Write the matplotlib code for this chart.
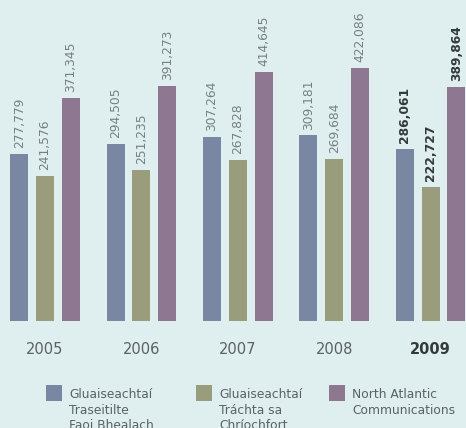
import matplotlib
matplotlib.use("Agg")
import matplotlib.pyplot as plt
from matplotlib.patches import Rectangle

years = ["2005", "2006", "2007", "2008", "2009"]
series_names = [
    "Gluaiseachtaí\nTraseitilte\nFaoi Bhealach",
    "Gluaiseachtaí\nTráchta sa\nChríochfort",
    "North Atlantic\nCommunications",
]
overflight = [277779, 294505, 307264, 309181, 286061]
terminal = [241576, 251235, 267828, 269684, 222727]
nat = [371345, 391273, 414645, 422086, 389864]
series_values = [overflight, terminal, nat]
colors = ["#7a87a3", "#9a9d7b", "#8e7891"]

BG = "#dfeeee"
W, H = 466, 428
fig = plt.figure(figsize=(W / 100, H / 100), dpi=100)
fig.patch.set_facecolor(BG)

# axes: baseline at y=321px from top, spans to top of figure
ax = fig.add_axes([0, (H - 321) / H, 1, 321 / H])
ax.set_facecolor(BG)
for s in ax.spines.values():
    s.set_visible(False)

spacing = 96.4
ax.set_xlim(-45 / spacing, 4 + (W - 430.5) / spacing)
ax.set_ylim(0, 321 / 0.0006)

bw = 18 / spacing
step = 25.8 / spacing
x = list(range(len(years)))
for si, (vals, col) in enumerate(zip(series_values, colors)):
    xs = [xi + (si - 1) * step for xi in x]
    ax.bar(xs, vals, width=bw, color=col, linewidth=0)
    for xi, v, yr in zip(xs, vals, years):
        last = yr == years[-1]
        ax.annotate(f"{v:,}", (xi, v), xytext=(0, 4.3), textcoords="offset points",
                    rotation=90, ha="center", va="bottom", fontsize=8.8,
                    color="#333a3a" if last else "#768080",
                    fontweight="bold" if last else "normal")

ax.set_xticks(x)
ax.set_xticklabels(years, fontsize=10.5, color="#5a6262")
ax.tick_params(axis="x", length=0, pad=15)
ax.set_yticks([])
lbls = ax.get_xticklabels()
lbls[-1].set_fontweight("bold")
lbls[-1].set_color("#333a3a")

# legend
leg_x = [46, 196, 329]
for lx, name, col in zip(leg_x, series_names, colors):
    fig.patches.append(Rectangle(((lx) / W, (H - 401) / H), 16 / W, 16 / H,
                                 transform=fig.transFigure, facecolor=col,
                                 edgecolor="none"))
    fig.text((lx + 23) / W, (H - 388) / H, name, fontsize=8.8, color="#5a6262",
             ha="left", va="top", linespacing=1.25)

fig.savefig("out.png", dpi=100, facecolor=BG)
